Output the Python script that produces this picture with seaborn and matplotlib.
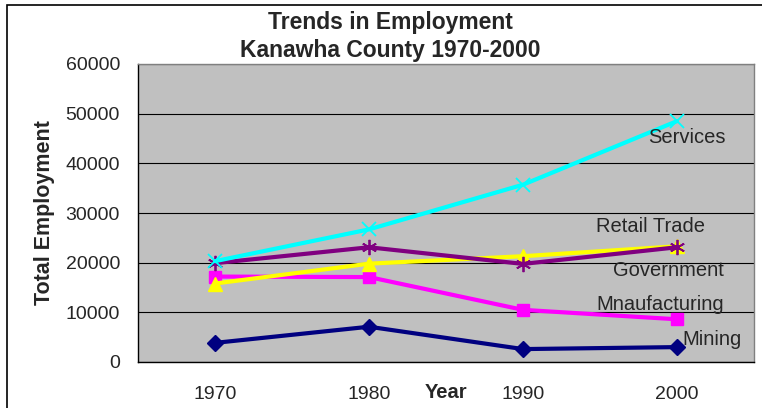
import pandas as pd
import matplotlib.pyplot as plt
import seaborn as sns
from matplotlib.patches import Rectangle

# data
years = [1970, 1980, 1990, 2000]
series_names = ['Mining', 'Mnaufacturing', 'Retail Trade', 'Government', 'Services']
mining = [3850, 7100, 2600, 3000]
manufacturing = [17200, 17100, 10500, 8600]
retail = [15800, 19800, 21300, 23300]
government = [19900, 23100, 19750, 23100]
services = [20300, 26700, 35700, 48500]

values = [mining, manufacturing, retail, government, services]
df = pd.DataFrame({
    'Year': years * len(series_names),
    'Employment': [v for vals in values for v in vals],
    'Series': [name for name in series_names for _ in years],
})

colors = {'Mining': '#000080', 'Mnaufacturing': '#FF00FF', 'Retail Trade': '#FFFF00',
          'Government': '#800080', 'Services': '#00FFFF'}
markers = {'Mining': 'D', 'Mnaufacturing': 's', 'Retail Trade': '^',
           'Government': (6, 2, 0), 'Services': 'x'}
msizes = {'Mining': 8, 'Mnaufacturing': 8.5, 'Retail Trade': 9.5,
          'Government': 11, 'Services': 10}

sns.set_style('white')
plt.rcParams['font.family'] = ['Liberation Sans', 'DejaVu Sans']

fig = plt.figure(figsize=(7.62, 4.08), dpi=100)
ax = fig.add_axes([138 / 762, 46 / 408, 616 / 762, 298 / 408])

# one call per series, in Excel's series order
for name in series_names:
    sub = df[df['Series'] == name]
    sns.lineplot(data=sub, x='Year', y='Employment', color=colors[name],
                 marker=markers[name], markersize=msizes[name], linewidth=3,
                 markeredgecolor=colors[name], markerfacecolor=colors[name],
                 markeredgewidth=1.3 if name in ('Government', 'Services') else 1,
                 ax=ax)

ax.set_facecolor('#C0C0C0')
ax.set_xlim(1965, 2005)
ax.set_ylim(0, 60000)
ax.set_yticks(range(0, 60001, 10000))
ax.yaxis.grid(True, color='black', linewidth=0.8)
ax.set_axisbelow(True)

ax.set_xticks(years)
ax.set_xticklabels([str(y) for y in years])
ax.set_xticks([1965, 1975, 1985, 1995, 2005], minor=True)
ax.tick_params(axis='x', which='major', length=0, pad=17, labelsize=14)
ax.tick_params(axis='x', which='minor', length=6, width=1, direction='out', color='black')
ax.tick_params(axis='y', length=6, width=1, direction='out', color='black', labelsize=14, pad=7)

for side in ['left', 'bottom']:
    ax.spines[side].set_color('black')
    ax.spines[side].set_linewidth(1)
for side in ['top', 'right']:
    ax.spines[side].set_color('#808080')
    ax.spines[side].set_linewidth(1)

ax.set_xlabel('')
ax.set_ylabel('')
fig.text(45 / 762, 1 - 213 / 408, 'Total Employment', fontsize=15.5, fontweight='bold',
         rotation=90, ha='center', va='center')
fig.text(446 / 762, 1 - 392 / 408, 'Year', fontsize=14.5, fontweight='bold',
         ha='center', va='center')

fig.text(390 / 762, 1 - 22 / 408, 'Trends in Employment', fontsize=16.5,
         fontweight='bold', ha='center', va='center')
fig.text(390 / 762, 1 - 50 / 408, 'Kanawha County 1970-2000', fontsize=16.5,
         fontweight='bold', ha='center', va='center')

# series labels next to the last point
offsets = {'Mining': (25, 5.5), 'Mnaufacturing': (-12, 11), 'Retail Trade': (-19, 14),
           'Government': (-6, -17), 'Services': (7, -12)}
for name, vals in zip(series_names, values):
    ax.annotate(name, (years[-1], vals[-1]), xytext=offsets[name],
                textcoords='offset points', fontsize=14.5, ha='center', va='center')

# outer chart frame (cut off at right and bottom)
fig.patches.append(Rectangle((7 / 762, -0.05), 1.0, 1 - 5 / 408 + 0.05,
                             transform=fig.transFigure, fill=False,
                             edgecolor='black', linewidth=1.2))

fig.savefig('out.png', dpi=100)
